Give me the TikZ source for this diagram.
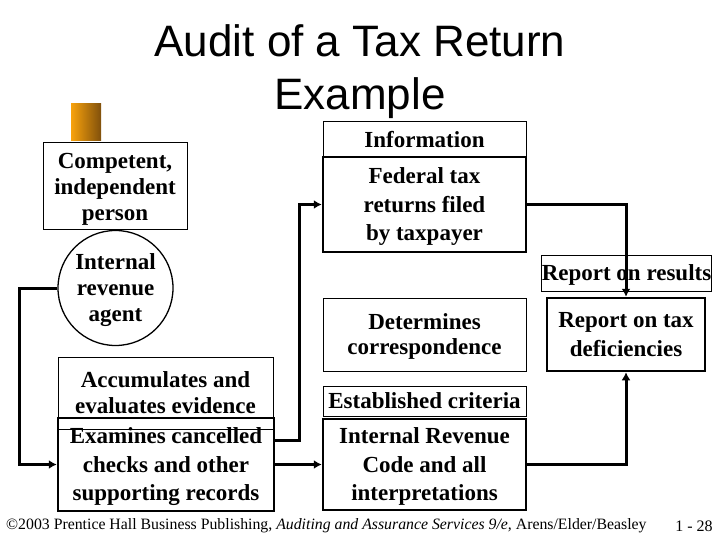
\documentclass[tikz,border=0pt]{standalone}
\usepackage{fontspec}
\setmainfont{Liberation Serif}
\newfontfamily\titlefont{Liberation Sans}
\usetikzlibrary{arrows.meta}

\begin{document}
\begin{tikzpicture}[x=1pt, y=-1pt, line join=miter]

%---- STYLES ----
\tikzset{
    box/.style={draw, line width=1pt, inner sep=0pt, align=center, text depth=0pt,
        font=\bfseries\fontsize{23}{26}\selectfont},
    heavybox/.style={box, line width=2.5pt,
        font=\bfseries\fontsize{23}{28.5}\selectfont},
    flow/.style={line width=3pt, -{Latex[length=8pt,width=9pt]}},
}

\useasboundingbox (0,0) rectangle (720,540);

% TITLE
\node[font=\titlefont\fontsize{44}{53}\selectfont, align=center] (title) at (360,72)
    {Audit of a Tax Return\\Example};

% ORANGE TAB
\node[inner sep=0pt, minimum width=30, minimum height=37,
      left color={rgb,255:red,248;green,162;blue,12},
      right color={rgb,255:red,128;green,80;blue,12}] (tab) at (86,122.5) {};

%---- LEFT COLUMN ----
\node[box, minimum width=144, minimum height=87] (person) at (115,186.5)
    {Competent,\\independent\\person};
\node[box, circle, line width=1.3pt, minimum size=115] (agent) at (115.5,288)
    {Internal\\revenue\\agent};
\node[box, minimum width=215, minimum height=72] (accum) at (165.5,393)
    {Accumulates and\\evaluates evidence};
\node[heavybox, minimum width=216, minimum height=93] (checks) at (166,464.5)
    {Examines cancelled\\checks and other\\supporting records};

%---- MIDDLE COLUMN ----
\node[box, minimum width=203, minimum height=35] (info) at (424.5,139.5)
    {Information};
\node[heavybox, minimum width=203, minimum height=95] (returns) at (424.5,204.5)
    {Federal tax\\returns filed\\by taxpayer};
\node[box, minimum width=203, minimum height=73, font=\bfseries\fontsize{23}{25}\selectfont]
    (corresp) at (424.5,334.5) {Determines\\correspondence};
\node[box, minimum width=203, minimum height=30] (criteria) at (424.5,401)
    {Established criteria};
\node[heavybox, minimum width=203, minimum height=91] (code) at (424.5,464.5)
    {Internal Revenue\\Code and all\\interpretations};

%---- RIGHT COLUMN ----
\node[box, minimum width=159, minimum height=36] (results) at (626.5,273)
    {Report on results};
\node[heavybox, minimum width=158, minimum height=73] (deficiency) at (626,334.5)
    {Report on tax\\deficiencies};

%---- CONNECTORS ----
\draw[flow] (agent.west) -- ++(-38,0) |- (checks.west);
\draw[flow] ([yshift=24pt]checks.east) -- ++(24,0) |- (returns.west);
\draw[flow] (checks.east) -- (checks.east -| code.west);
\draw[flow] (returns.east) -| (deficiency.north);
\draw[flow] (code.east) -| (deficiency.south);

% FOOTER
\node[anchor=west, font=\fontsize{15.8}{19}\selectfont, inner sep=0pt] (credit) at (6,526)
    {\textcopyright2003 Prentice Hall Business Publishing, \textit{Auditing and Assurance Services 9/e,} Arens/Elder/Beasley};
\node[font=\fontsize{16}{19}\selectfont, inner sep=0pt] (slide) at (694,526) {1 - 28};

\end{tikzpicture}
\end{document}
